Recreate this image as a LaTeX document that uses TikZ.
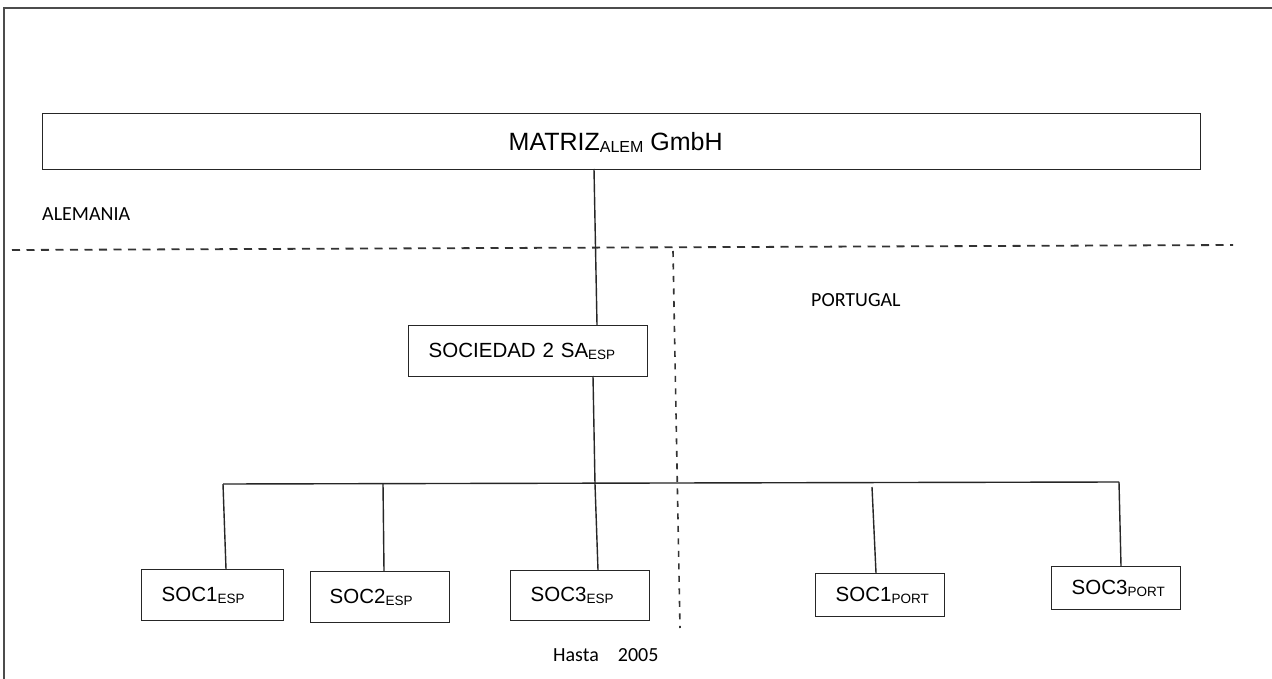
\documentclass[tikz,border=0pt]{standalone}
\usepackage{fontspec}
\setmainfont{Liberation Sans}
\newfontfamily\calfont{Carlito}
\newcommand{\mysub}[2][13.5]{\raisebox{-1.8pt}{\fontsize{#1}{#1}\selectfont #2}}
\begin{document}
\begin{tikzpicture}[x=1pt,y=-1pt,
  lin/.style={draw=black!85,line width=1.4pt},
  frame/.style={draw=black!70,line width=2pt},
  hdash/.style={draw=black!80,line width=1.8pt,dash pattern=on 8pt off 6.5pt},
  vdash/.style={draw=black!80,line width=1.6pt,dash pattern=on 6pt off 6.5pt},
  sbox/.style={draw=black!85,line width=1.4pt,anchor=north west,inner ysep=0pt,
    font=\fontsize{20.5}{22}\selectfont,align=left},
  region/.style={font=\calfont\fontsize{20}{22}\selectfont,inner sep=0pt,anchor=west}]
\useasboundingbox (0,0) rectangle (1272,679);
\fill[white] (0,0) rectangle (1272,679);
% frame
\draw[frame] (4,679) -- (4,8.5) -- (1272,8.5);
% boxes
\node[draw=black!85,line width=1.4pt,anchor=north west,minimum width=1158pt,minimum height=56pt,inner sep=0pt] (matriz) at (42,113) {};
\node[font=\fontsize{25}{27}\selectfont,inner sep=0pt] (mtext) at ([xshift=-6pt,yshift=-1pt]matriz.center) {MATRIZ\mysub[16]{ALEM} GmbH};
\node[sbox,minimum height=51pt,text width=199pt,inner xsep=20pt] (soc2sa) at (408,325) {SOCIEDAD 2 SA\mysub{ESP}};
\node[sbox,minimum height=51pt,text width=102pt,inner xsep=20pt] (soc1e) at (141,569) {SOC1\mysub{ESP}};
\node[sbox,minimum height=51pt,text width=101pt,inner xsep=19pt] (soc2e) at (310,571) {SOC2\mysub{ESP}};
\node[sbox,minimum height=50pt,text width=99pt,inner xsep=20pt] (soc3e) at (510,570) {SOC3\mysub{ESP}};
\node[sbox,minimum height=43pt,text width=89pt,inner xsep=20pt] (soc1p) at (815,573) {SOC1\mysub{PORT}};
\node[sbox,minimum height=43pt,text width=89pt,inner xsep=20pt] (soc3p) at (1051,566) {SOC3\mysub{PORT}};
% region labels
\node[region] (alem) at (42,214) {ALEMANIA};
\node[region] (port) at (811,300) {PORTUGAL};
\node[region] (hasta) at (553,655) {Hasta\hspace{19pt}2005};
% dashed borders
\coordinate (dl) at (12,250);
\coordinate (dr) at (1233,245);
\coordinate (vt) at (673,251);
\coordinate (vb) at (680,628);
\draw[hdash] (dl) -- (dr);
\draw[vdash] (vt) -- (vb);
% connectors
\coordinate (m1) at (594,169);
\coordinate (m2) at (597,325);
\draw[lin] (m1) -- (m2);
\coordinate (s1) at (593,376);
\coordinate (bj) at (595,484);
\coordinate (s3) at (598,570);
\draw[lin] (s1) -- (bj) -- (s3);
\coordinate (bl) at (223,484);
\coordinate (br) at (1119,482);
\draw[lin] (bl) -- (br);
\coordinate (d1) at (226,569);
\draw[lin] (bl) -- (d1);
\coordinate (b2) at (383,483.5);
\coordinate (d2) at (384,571);
\draw[lin] (b2) -- (d2);
\coordinate (b4) at (872,487);
\coordinate (d4) at (876,573);
\draw[lin] (b4) -- (d4);
\coordinate (d5) at (1121,566);
\draw[lin] (br) -- (d5);
\end{tikzpicture}
\end{document}
